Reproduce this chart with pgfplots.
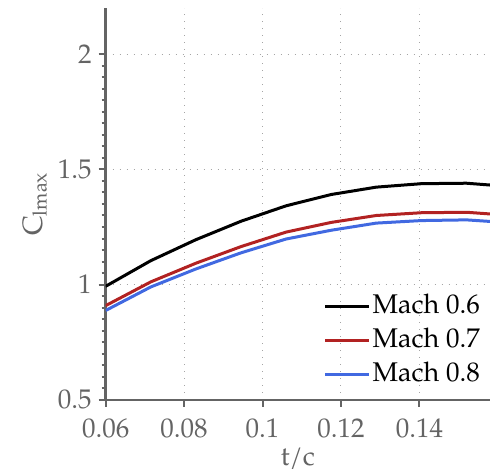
\documentclass[border=0pt]{standalone}
\usepackage{fontspec}
\setmainfont{TeX Gyre Pagella}
\usepackage{pgfplots}
\pgfplotsset{compat=1.18}

\definecolor{axgray}{RGB}{100,100,100}
\definecolor{gridgray}{RGB}{165,165,165}
\definecolor{machred}{RGB}{178,34,34}
\definecolor{machblue}{RGB}{65,105,225}

% Maximum lift coefficient against thickness ratio
\pgfplotstableread{
tc     cl
0.06   0.993
0.0715 1.104
0.083  1.195
0.0945 1.275
0.106  1.342
0.1175 1.391
0.129  1.423
0.1405 1.438
0.152  1.440
0.1635 1.425
}\machsix
\pgfplotstableread{
tc     cl
0.06   0.909
0.0715 1.012
0.083  1.093
0.0945 1.165
0.106  1.228
0.1175 1.270
0.129  1.300
0.1405 1.312
0.152  1.314
0.1635 1.300
}\machseven
\pgfplotstableread{
tc     cl
0.06   0.888
0.0715 0.990
0.083  1.068
0.0945 1.138
0.106  1.198
0.1175 1.236
0.129  1.267
0.1405 1.278
0.152  1.281
0.1635 1.268
}\macheight

\begin{document}
\begin{tikzpicture}
\begin{axis}[
  scale only axis,
  width=192.2pt, height=196pt,
  xmin=0.06, xmax=0.158,
  ymin=0.5, ymax=2.2,
  axis x line=bottom, axis y line=left,
  axis line style={-, axgray, line width=1.2pt},
  xtick={0.06,0.08,0.1,0.12,0.14},
  xticklabels={0.06,0.08,0.1,0.12,0.14},
  ytick={0.5,1,1.5,2},
  yticklabels={0.5,1,1.5,2},
  minor y tick num=9,
  tick align=outside,
  major tick length=3.5pt, minor tick length=2pt,
  every tick/.style={axgray, line width=1pt},
  grid=major,
  major grid style={gridgray, line width=0.5pt, dash pattern=on 0.6pt off 2.9pt},
  /pgf/number format/assume math mode=true,
  ticklabel style={font=\fontsize{13.5}{16}\selectfont, text=axgray},
  xticklabel style={yshift=-2.5pt},
  xlabel={t/c},
  ylabel={C\textsubscript{lmax}},
  every axis x label/.style={at={(axis description cs:0.5,-0.168)}, anchor=base,
    font=\fontsize{13.5}{16}\selectfont, text=axgray},
  every axis y label/.style={at={(axis description cs:-0.152,0.5)}, rotate=90,
    anchor=south, inner sep=0pt, font=\fontsize{14}{16}\selectfont, text=axgray},
  legend style={at={(axis description cs:0.985,0.02)}, anchor=south east,
    draw=none, fill=none, font=\fontsize{13.5}{16}\selectfont, text=black,
    row sep=2pt, inner sep=1pt,
    nodes={inner sep=1pt, text height=10pt, text depth=3pt}},
  legend cell align=left,
  legend image code/.code={\draw[#1] (0pt,0pt) -- (22pt,0pt);},
]
\addplot[black, line width=1.5pt] table[x=tc, y=cl] {\machsix};
\addlegendentry{Mach 0.6}
\addplot[machred, line width=1.5pt] table[x=tc, y=cl] {\machseven};
\addlegendentry{Mach 0.7}
\addplot[machblue, line width=1.5pt] table[x=tc, y=cl] {\macheight};
\addlegendentry{Mach 0.8}
\end{axis}
\pgfresetboundingbox
\path ([xshift=-52.85pt,yshift=-36.5pt]current axis.south west)
  rectangle ([yshift=4pt]current axis.north east);
\end{tikzpicture}
\end{document}
